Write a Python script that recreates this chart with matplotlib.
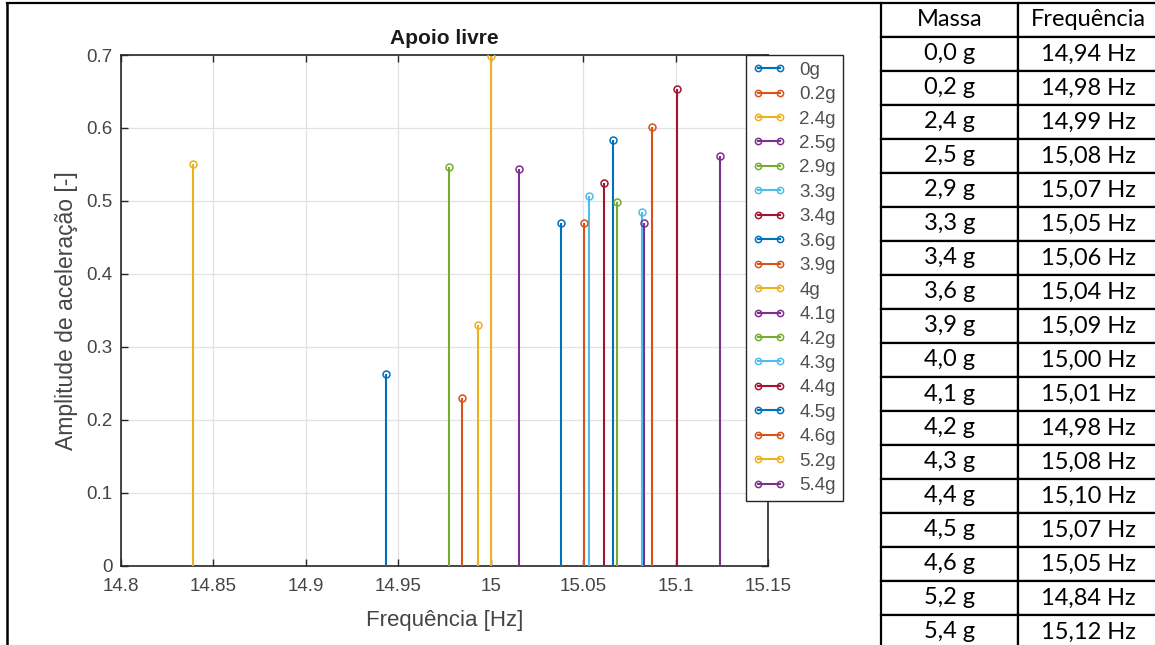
import matplotlib
matplotlib.use("Agg")
import matplotlib.pyplot as plt
from matplotlib.lines import Line2D
from matplotlib.ticker import FuncFormatter, MultipleLocator

# dados
massas = ['0g', '0.2g', '2.4g', '2.5g', '2.9g', '3.3g', '3.4g', '3.6g', '3.9g',
          '4g', '4.1g', '4.2g', '4.3g', '4.4g', '4.5g', '4.6g', '5.2g', '5.4g']
frequencias = [14.9436, 14.9847, 14.9930, 15.0831, 15.0684, 15.0529, 15.0613, 15.0380, 15.0871,
               15.0002, 15.0153, 14.9775, 15.0819, 15.1006, 15.0662, 15.0507, 14.8390, 15.1243]
amplitudes = [0.262, 0.229, 0.330, 0.469, 0.499, 0.507, 0.525, 0.469, 0.601,
              0.698, 0.544, 0.546, 0.485, 0.653, 0.583, 0.469, 0.551, 0.561]

# tabela ao lado
tab_massa = ['0,0 g', '0,2 g', '2,4 g', '2,5 g', '2,9 g', '3,3 g', '3,4 g', '3,6 g', '3,9 g',
             '4,0 g', '4,1 g', '4,2 g', '4,3 g', '4,4 g', '4,5 g', '4,6 g', '5,2 g', '5,4 g']
tab_freq = ['14,94 Hz', '14,98 Hz', '14,99 Hz', '15,08 Hz', '15,07 Hz', '15,05 Hz', '15,06 Hz',
            '15,04 Hz', '15,09 Hz', '15,00 Hz', '15,01 Hz', '14,98 Hz', '15,08 Hz', '15,10 Hz',
            '15,07 Hz', '15,05 Hz', '14,84 Hz', '15,12 Hz']

cores_matlab = ['#0072BD', '#D95319', '#EDB120', '#7E2F8E', '#77AC30', '#4DBEEE', '#A2142F']
CINZA = '#262626'

W, H = 1155, 645
fig = plt.figure(figsize=(W / 100, H / 100), dpi=100)
plt.rcParams['font.family'] = ['Liberation Sans', 'DejaVu Sans']

# eixo do grafico (em pixels da imagem)
esq, dir_, topo, base = 121, 768, 55, 565.5
ax = fig.add_axes([esq / W, (H - base) / H, (dir_ - esq) / W, (base - topo) / H])

handles = []
for i, (f, a) in enumerate(zip(frequencias, amplitudes)):
    c = cores_matlab[i % len(cores_matlab)]
    ax.vlines(f, 0, a, color=c, lw=1.5, zorder=3)
    ax.plot(f, a, 'o', color=c, mfc='none', ms=5, mew=1.1, zorder=4)
    handles.append(Line2D([], [], color=c, lw=1.5, marker='o', mfc='none', ms=4.5,
                          mew=1.1, markevery=[1]))

ax.set_xlim(14.8, 15.15)
ax.set_ylim(0, 0.7)
ax.xaxis.set_major_locator(MultipleLocator(0.05))
ax.yaxis.set_major_locator(MultipleLocator(0.1))
ax.xaxis.set_major_formatter(FuncFormatter(lambda v, _: f'{v:g}'))
ax.yaxis.set_major_formatter(FuncFormatter(lambda v, _: f'{v:g}'))
ax.grid(True, color='#e2e2e2', lw=0.9, zorder=0)
ax.set_axisbelow(True)
ax.tick_params(direction='in', length=5, width=1, top=True, right=True,
               colors=CINZA, labelsize=13.5, labelcolor='#454545')
ax.tick_params(axis='x', pad=9)
ax.tick_params(axis='y', pad=6)
for s in ax.spines.values():
    s.set_color(CINZA)
    s.set_linewidth(1.2)

ax.set_title('Apoio livre', fontsize=15, fontweight='bold', color='#1a1a1a', pad=8)
ax.set_xlabel('Frequência [Hz]', fontsize=16, color='#454545', labelpad=11)
ax.set_ylabel('Amplitude de aceleração [-]', fontsize=16.5, color='#454545', labelpad=6)

leg = ax.legend(handles, massas, loc='upper left', bbox_to_anchor=((746 - esq) / (dir_ - esq), 1.0),
                borderaxespad=0, numpoints=2, fontsize=13.5, handlelength=1.75,
                handletextpad=0.75, labelspacing=0.39, borderpad=0.35,
                fancybox=False, framealpha=1, edgecolor=CINZA)
leg.get_frame().set_linewidth(1.0)
for t in leg.get_texts():
    t.set_color('#505050')

# tabela Massa / Frequência
tab_x0, tab_y0 = 881, 3
tab_w, tab_h = 277, 646
ax_t = fig.add_axes([tab_x0 / W, (H - tab_y0 - tab_h) / H, tab_w / W, tab_h / H])
ax_t.axis('off')
linhas = [[m, f] for m, f in zip(tab_massa, tab_freq)]
tabela = ax_t.table(cellText=linhas, colLabels=['Massa', 'Frequência'], cellLoc='center',
                    colWidths=[137 / tab_w, 140 / tab_w], bbox=[0, 0, 1, 1])
tabela.auto_set_font_size(False)
for cel in tabela.get_celld().values():
    cel.set_linewidth(1.6)
    cel.set_edgecolor('black')
    cel.get_text().set_fontsize(17)
    cel.get_text().set_fontfamily('Lato')
    cel.get_text().set_color('black')

# borda da célula do gráfico
fig.add_artist(Line2D([7 / W, 7 / W], [0, 1 - 3 / H], color='black', lw=1.8))
fig.add_artist(Line2D([7 / W, tab_x0 / W], [1 - 3 / H, 1 - 3 / H], color='black', lw=1.6))

fig.savefig('out.png', dpi=100)
